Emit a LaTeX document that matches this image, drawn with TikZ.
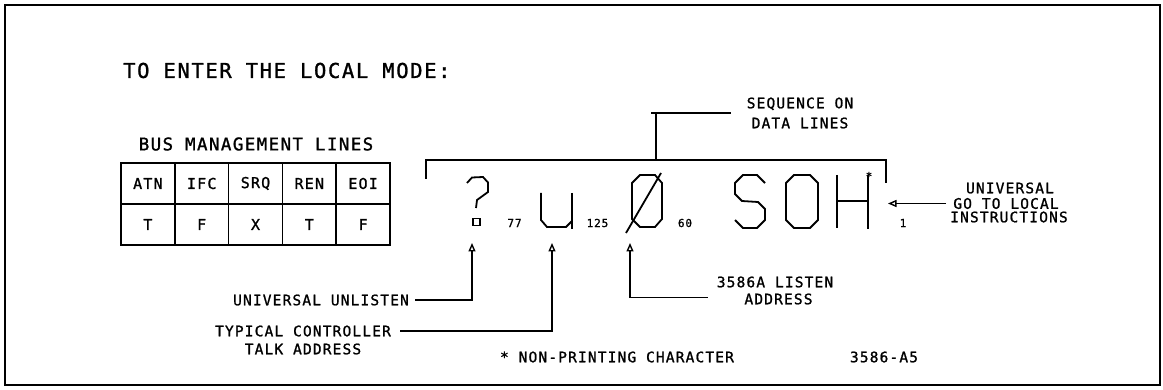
\documentclass[tikz,border=0pt]{standalone}
\usepackage{fontspec}
\newfontfamily\plotfont[LetterSpace=8,FakeBold=1.2]{DejaVu Sans Mono}
\usetikzlibrary{arrows.meta,calc}
\begin{document}
\begin{tikzpicture}[x=1pt,y=-1pt,
  txt/.style={inner sep=0pt, font=\plotfont\fontsize{14.5}{20}\selectfont},
  titletxt/.style={inner sep=0pt, font=\plotfont\fontsize{20.5}{24}\selectfont},
  bustxt/.style={inner sep=0pt, font=\plotfont\fontsize{17.5}{20}\selectfont},
  numtxt/.style={inner sep=0pt, font=\plotfont\fontsize{11}{12}\selectfont},
  cell/.style={draw, line width=1.6pt, minimum width=53.8pt, minimum height=41pt, inner sep=0pt, font=\plotfont\fontsize{15}{16}\selectfont},
  glyph/.style={line width=1.8pt, line join=miter},
  openarr/.style={line width=1.4pt, -{Triangle[open,length=8.5pt,width=7pt,line width=1.4pt]}},
  bracket/.style={line width=1.6pt},
  frame/.style={line width=2.5pt}]
\useasboundingbox (0,0) rectangle (1163,390);
\draw[frame] (5,5) rectangle (1160,385);

% title
\node[titletxt, anchor=west] (title) at (123,70.5) {TO ENTER THE LOCAL MODE:};

% bus management table
\node[bustxt] (bus) at (256,144) {BUS MANAGEMENT LINES};
\foreach \n/\h/\v [count=\i] in {atn/ATN/T, ifc/IFC/F, srq/SRQ/X, ren/REN/T, eoi/EOI/F} {
  \node[cell] (\n h) at ({121+53.8*(\i-0.5)},183.5) {\h};
  \node[cell] (\n v) at ({121+53.8*(\i-0.5)},224.5) {\v};
}

% sequence bracket
\coordinate (brl) at (426,179);
\coordinate (brr) at (886,183);
\coordinate (brtop) at (656,160);
\coordinate (stemcorner) at (651,113);
\draw[bracket] (brl) -- (brl |- brtop) -- (brr |- brtop) -- (brr);
\draw[bracket] (brtop) -- (brtop |- stemcorner);
\node[txt, align=center] (seq) at (800,113) {SEQUENCE ON\\DATA LINES};
\draw[bracket] ([xshift=-16pt]seq.west) -- (stemcorner);

% large plotted characters
% ?
\draw[glyph] (467,183) -- (472,177.5) -- (483,177) -- (488,182.5) -- (488,192) -- (477,200) -- (476,208);
\draw[line width=1.3pt] (473,218.5) rectangle (480,225.5);
% U
\draw[glyph] (541,193) -- (541,220) -- (547,227) -- (566,227) -- (572,221);
\draw[glyph] (572,193) -- (572,229);
% slashed zero
\draw[glyph] (640,175) -- (655,175) -- (662,183) -- (662,219) -- (655,227) -- (640,227) -- (632,219) -- (632,183) -- cycle;
\draw[glyph] (626,233) -- (661,173);
% S
\draw[glyph] (765,183) -- (757,175) -- (743,175) -- (735,183) -- (735,194) -- (742,201) -- (758,202) -- (765,209) -- (765,220) -- (757,228) -- (743,228) -- (735,220);
% O
\draw[glyph] (794,175) -- (810,175) -- (818,183) -- (818,220) -- (810,228) -- (794,228) -- (786,220) -- (786,183) -- cycle;
% H
\draw[glyph] (837,175) -- (837,228);
\draw[glyph] (868,175) -- (868,229);
\draw[glyph] (837,201) -- (868,201);
\node[inner sep=0pt, font=\plotfont\fontsize{11}{11}\selectfont] (ast) at (869,176) {*};

% small numbers
\node[numtxt] (n77) at (514.5,223) {77};
\node[numtxt] (n125) at (597.5,223) {125};
\node[numtxt] (n60) at (685,223) {60};
\node[numtxt] (n1) at (903,223) {1};

% right callout
\coordinate (htip) at (888,203.5);
\node[txt] (ug1) at (1010,188) {UNIVERSAL};
\node[txt] (ug2) at (1006,203.5) {GO TO LOCAL};
\node[txt] (ug3) at (1009,217) {INSTRUCTIONS};
\draw[openarr] ([xshift=-7pt]ug2.west) -- (htip);

% bottom callouts
\coordinate (qtip) at (472,243);
\coordinate (utip) at (552,243);
\coordinate (ztip) at (630,243);
\node[txt] (uu) at (321,300) {UNIVERSAL UNLISTEN};
\draw[openarr] ([xshift=6pt]uu.east) -| (qtip);
\node[txt] (tc1) at (303,331) {TYPICAL CONTROLLER};
\node[txt] (tc2) at (303,349) {TALK ADDRESS};
\draw[openarr] ([xshift=9pt]tc1.east) -| (utip);
\node[txt] (la1) at (775,282) {3586A LISTEN};
\node[txt] (la2) at (778.5,299) {ADDRESS};
\coordinate (lacorner) at ($(la1.west |- la2.west)+(-9,-1.5)$);
\draw[openarr] (lacorner) -| (ztip);

% footnotes
\node[txt] (np) at (617,357) {* NON-PRINTING CHARACTER};
\node[txt] (fig) at (884,357) {3586-A5};
\end{tikzpicture}
\end{document}
